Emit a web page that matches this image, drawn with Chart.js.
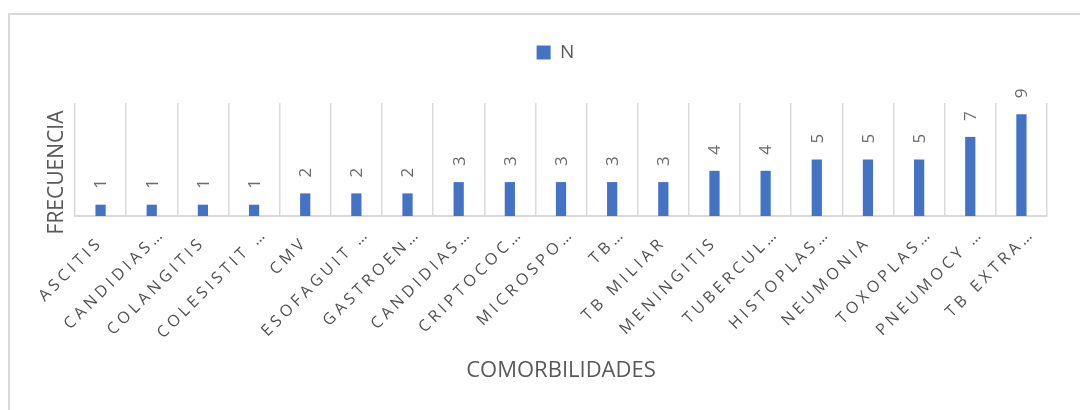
<!DOCTYPE html>
<html>
<head>
<meta charset="utf-8">
<script src="https://cdn.jsdelivr.net/npm/chart.js@4.4.1/dist/chart.umd.min.js"></script>
<style>
  html, body { margin: 0; padding: 0; background: #fff; }
  #wrap { position: relative; width: 1080px; height: 410px; overflow: hidden; }
  #frame { position: absolute; left: 8px; top: 13px; width: 1200px; height: 500px;
           border-top: 2px solid #d9d9d9; border-left: 2px solid #d9d9d9; }
  #grafico { position: absolute; left: 0; top: 0; }
</style>
</head>
<body>
<div id="wrap">
  <div id="frame"></div>
  <canvas id="grafico" width="1080" height="410"></canvas>
</div>
<script>
const categorias = [
  "ASCITIS", "CANDIDIAS…", "COLANGITIS", "COLESISTIT …", "CMV",
  "ESOFAGUIT …", "GASTROEN…", "CANDIDIAS…", "CRIPTOCOC…", "MICROSPO…",
  "TB…", "TB MILIAR", "MENINGITIS", "TUBERCUL…", "HISTOPLAS…",
  "NEUMONIA", "TOXOPLAS…", "PNEUMOCY …", "TB EXTRA…"
];
const frecuencias = [1, 1, 1, 1, 2, 2, 2, 3, 3, 3, 3, 3, 4, 4, 5, 5, 5, 7, 9];
const serie = "N";

const gris = '#595959';
const fuente = '"Open Sans", "Noto Sans", sans-serif';

// etiquetas de valor giradas sobre cada barra
const etiquetas = {
  id: 'etiquetas',
  afterDatasetsDraw(chart) {
    const ctx = chart.ctx;
    const meta = chart.getDatasetMeta(0);
    ctx.save();
    ctx.font = '17px ' + fuente;
    ctx.fillStyle = '#6b6b6b';
    ctx.textAlign = 'left';
    ctx.textBaseline = 'middle';
    meta.data.forEach((bar, i) => {
      ctx.save();
      ctx.translate(bar.x + 1, bar.y - 16);
      ctx.rotate(-Math.PI / 2);
      ctx.fillText(String(frecuencias[i]), 0, 0);
      ctx.restore();
    });
    ctx.restore();
  }
};

// espacio extra bajo la leyenda y leyenda un poco a la derecha
const ajusteLeyenda = {
  id: 'ajusteLeyenda',
  beforeInit(chart) {
    const leyenda = chart.legend;
    const fit = leyenda.fit;
    leyenda.fit = function() {
      fit.call(this);
      this.height += 31;
    };
    const draw = leyenda.draw;
    leyenda.draw = function() {
      this.ctx.save();
      this.ctx.translate(16, 0);
      draw.call(this);
      this.ctx.restore();
    };
  }
};

// letras espaciadas en el eje x, etiquetas recortadas algo desplazadas,
// titulo del eje y algo mas abajo
const ajusteEjes = {
  id: 'ajusteEjes',
  beforeDraw(chart) {
    const x = chart.scales.x;
    if (!x._ajustado) {
      const items = x.getLabelItems.bind(x);
      x.getLabelItems = function(area) {
        const lista = items(area);
        if (!lista._movido) {
          lista.forEach(it => {
            if (String(it.label).endsWith('…')) {
              const t = it.options.translation;
              it.options.translation = [t[0] + 11, t[1] - 9];
            }
          });
          lista._movido = true;
        }
        return lista;
      };
      const labels = x.drawLabels.bind(x);
      x.drawLabels = function(area) {
        this.ctx.save();
        this.ctx.letterSpacing = '4px';
        labels(area);
        this.ctx.restore();
      };
      x._ajustado = true;
    }
    const y = chart.scales.y;
    if (!y._ajustado) {
      const title = y.drawTitle.bind(y);
      y.drawTitle = function() {
        this.ctx.save();
        this.ctx.translate(0, 13);
        title();
        this.ctx.restore();
      };
      y._ajustado = true;
    }
  }
};

new Chart(document.getElementById('grafico'), {
  type: 'bar',
  data: {
    labels: categorias,
    datasets: [{
      label: serie,
      data: frecuencias,
      backgroundColor: '#4472C4',
      borderWidth: 0,
      categoryPercentage: 1,
      barPercentage: 0.2
    }]
  },
  options: {
    responsive: false,
    animation: false,
    devicePixelRatio: 1,
    layout: { padding: { left: 32, right: 33, top: 33, bottom: 20 } },
    plugins: {
      legend: {
        position: 'top',
        labels: {
          color: gris,
          boxWidth: 14,
          boxHeight: 14,
          padding: 10,
          font: { family: fuente, size: 19 }
        }
      },
      tooltip: { enabled: false }
    },
    scales: {
      x: {
        afterFit(s) { s.height = 174; },
        grid: { color: '#d9d9d9', lineWidth: 1.5, drawTicks: false, offset: true },
        border: { color: '#d9d9d9', width: 2 },
        ticks: {
          autoSkip: false,
          maxRotation: 45,
          minRotation: 45,
          padding: 17,
          color: '#505050',
          font: { family: fuente, size: 16 }
        },
        title: {
          display: true,
          text: 'COMORBILIDADES',
          color: gris,
          padding: { top: 0, bottom: 6 },
          font: { family: fuente, size: 22 }
        }
      },
      y: {
        min: 0,
        max: 10,
        afterFit(s) { s.width = 43; },
        grid: { display: false },
        border: { display: false },
        ticks: { display: false },
        title: {
          display: true,
          text: 'FRECUENCIA',
          color: gris,
          padding: { top: 12, bottom: 0 },
          font: { family: fuente, size: 21 }
        }
      }
    }
  },
  plugins: [etiquetas, ajusteLeyenda, ajusteEjes]
});
</script>
</body>
</html>
